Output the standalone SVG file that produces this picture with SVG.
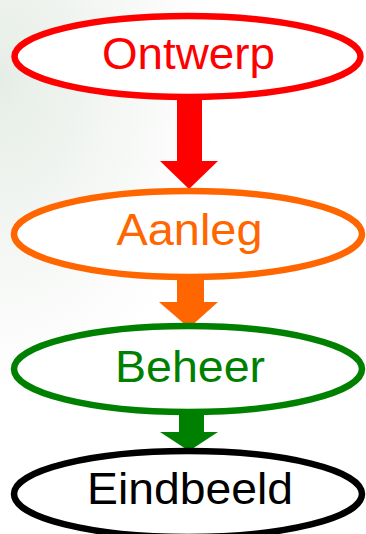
<svg xmlns="http://www.w3.org/2000/svg" width="366" height="534" viewBox="0 0 366 534">
<defs>
<radialGradient id="bg" cx="0" cy="0.15" r="0.6" gradientUnits="objectBoundingBox">
<stop offset="0" stop-color="#e6ede6"/>
<stop offset="0.6" stop-color="#f6f8f6"/>
<stop offset="1" stop-color="#ffffff"/>
</radialGradient>
</defs>
<style>
.node ellipse{fill:#ffffff;stroke-width:6.5}
.node text{font-family:"Liberation Sans",Arial,sans-serif;font-size:44px;text-anchor:middle}
</style>
<rect x="0" y="0" width="366" height="534" fill="url(#bg)"/>
<g id="connectors">
<polygon fill="#ff0000" points="177,98 202,98 202,161 218,161 189,189 160,161 177,161"/>
<polygon fill="#ff6600" points="177,278 204,278 204,302 218,302 189,328 159,302 177,302"/>
<polygon fill="#008000" points="179,413 204,413 204,432 218,432 189,451 160,432 179,432"/>
</g>
<g id="ontwerp" class="node">
<ellipse cx="187.5" cy="56.5" rx="173" ry="40.5" stroke="#ff0000"/>
<text x="188.5" y="68.5" fill="#ff0000" textLength="173" lengthAdjust="spacingAndGlyphs">Ontwerp</text>
</g>
<g id="aanleg" class="node">
<ellipse cx="188" cy="234" rx="174" ry="43" stroke="#ff6600"/>
<text x="189.5" y="245" fill="#ff6600" textLength="146" lengthAdjust="spacingAndGlyphs">Aanleg</text>
</g>
<g id="beheer" class="node">
<ellipse cx="188" cy="369" rx="174" ry="43" stroke="#008000"/>
<text x="190" y="382" fill="#008000" textLength="150" lengthAdjust="spacingAndGlyphs">Beheer</text>
</g>
<g id="eindbeeld" class="node">
<ellipse cx="188" cy="494" rx="174" ry="43" stroke="#000000"/>
<text x="190" y="503.5" fill="#000000" textLength="206" lengthAdjust="spacingAndGlyphs">Eindbeeld</text>
</g>
</svg>
